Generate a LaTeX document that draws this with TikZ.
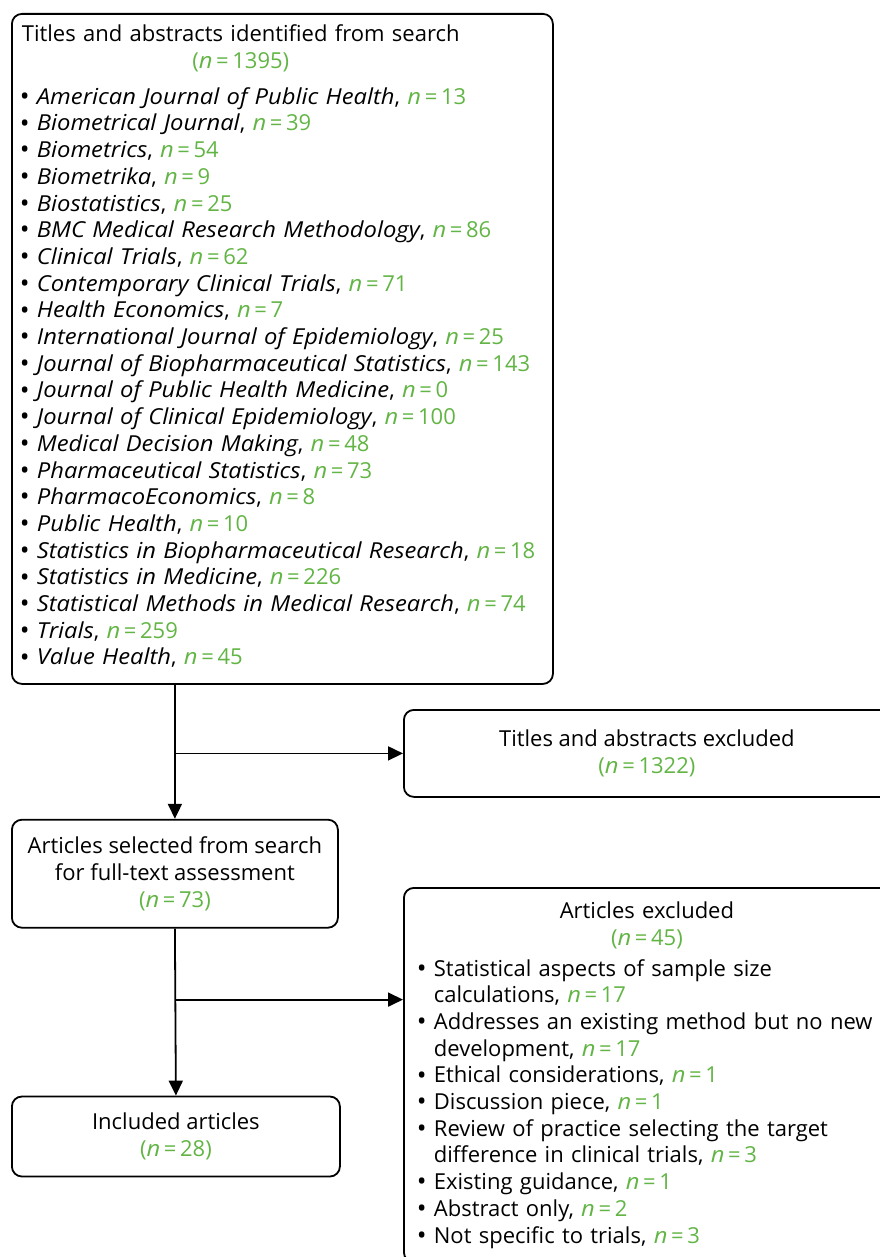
\documentclass[tikz,border=0pt]{standalone}
\usepackage{fontspec}
\setmainfont{Open Sans}[ItalicFeatures={FakeStretch=1.08}]
\usepackage{xcolor}
\usetikzlibrary{arrows.meta,positioning}
\definecolor{grn}{RGB}{98,181,69}
\newcommand{\nn}[1]{\textcolor{grn}{\textit{n}\,=\,#1}}
\newcommand{\bitem}[1]{\par\hangindent=7.5pt\hangafter=1\noindent\makebox[7.5pt][l]{\hspace{-1pt}\raisebox{-0.6pt}{\fontsize{13}{13}\selectfont\textbullet}}#1}

\begin{document}
\begin{tikzpicture}[x=0.5pt,y=-0.5pt,
  box/.style={draw,line width=0.9pt,rounded corners=5pt,font=\fontsize{11}{13.35}\selectfont},
  arr/.style={line width=0.9pt,-{Triangle[length=7.5pt,width=7pt]}}]
\useasboundingbox (0,0) rectangle (879,1257);
\node[box,anchor=north west,text width=260.5pt,inner xsep=5pt,minimum height=335pt](Search) at (11,13){\raggedright\noindent\begin{tabular}[t]{@{}c@{}}Titles and abstracts identified from search\\ \textcolor{grn}{(\nn{1395})}\end{tabular}\par\vspace{4.5pt}
\bitem{\textit{American Journal of Public Health}, \nn{13}}
\bitem{\textit{Biometrical Journal}, \nn{39}}
\bitem{\textit{Biometrics}, \nn{54}}
\bitem{\textit{Biometrika}, \nn{9}}
\bitem{\textit{Biostatistics}, \nn{25}}
\bitem{\textit{BMC Medical Research Methodology}, \nn{86}}
\bitem{\textit{Clinical Trials}, \nn{62}}
\bitem{\textit{Contemporary Clinical Trials}, \nn{71}}
\bitem{\textit{Health Economics}, \nn{7}}
\bitem{\textit{International Journal of Epidemiology}, \nn{25}}
\bitem{\textit{Journal of Biopharmaceutical Statistics}, \nn{143}}
\bitem{\textit{Journal of Public Health Medicine}, \nn{0}}
\bitem{\textit{Journal of Clinical Epidemiology}, \nn{100}}
\bitem{\textit{Medical Decision Making}, \nn{48}}
\bitem{\textit{Pharmaceutical Statistics}, \nn{73}}
\bitem{\textit{PharmacoEconomics}, \nn{8}}
\bitem{\textit{Public Health}, \nn{10}}
\bitem{\textit{Statistics in Biopharmaceutical Research}, \nn{18}}
\bitem{\textit{Statistics in Medicine}, \nn{226}}
\bitem{\textit{Statistical Methods in Medical Research}, \nn{74}}
\bitem{\textit{Trials}, \nn{259}}
\bitem{\textit{Value Health}, \nn{45}}\par\kern3.5pt};
\node[box,below=67pt of Search.south west,anchor=north west,align=center,minimum width=163pt,minimum height=54pt](Full){Articles selected from search\\ for full-text assessment\\ \textcolor{grn}{(\nn{73})}};
\node[box,below=83.5pt of Full.south west,anchor=north west,align=center,minimum width=164pt,minimum height=40pt](Incl){Included articles\\ \textcolor{grn}{(\nn{28})}};
\node[box,anchor=north west,align=center,minimum width=243pt,minimum height=43.5pt](Excl1) at (403,709){Titles and abstracts excluded\\ \textcolor{grn}{(\nn{1322})}};
\node[box,anchor=north west,text width=228pt,inner xsep=7.5pt,inner ysep=7pt](Excl2) at (403,887){{\centering Articles excluded\\ \textcolor{grn}{(\nn{45})}\par}\raggedright\vspace{2pt}
\bitem{Statistical aspects of sample size\newline calculations, \nn{17}}
\bitem{Addresses an existing method but no new\newline development, \nn{17}}
\bitem{Ethical considerations, \nn{1}}
\bitem{Discussion piece, \nn{1}}
\bitem{Review of practice selecting the target\newline difference in clinical trials, \nn{3}}
\bitem{Existing guidance, \nn{1}}
\bitem{Abstract only, \nn{2}}
\bitem{Not specific to trials, \nn{3}}};
\coordinate (Split2) at ([yshift=-35.5pt]Full.south);
\draw[arr] (Search.south -| Full.north) -- (Full.north);
\draw[arr] (Excl1.west -| Full.north) -- (Excl1.west);
\draw[arr] (Full.south) -- (Incl.north);
\draw[arr] (Split2) -- (Split2 -| Excl2.west);
\end{tikzpicture}
\end{document}
